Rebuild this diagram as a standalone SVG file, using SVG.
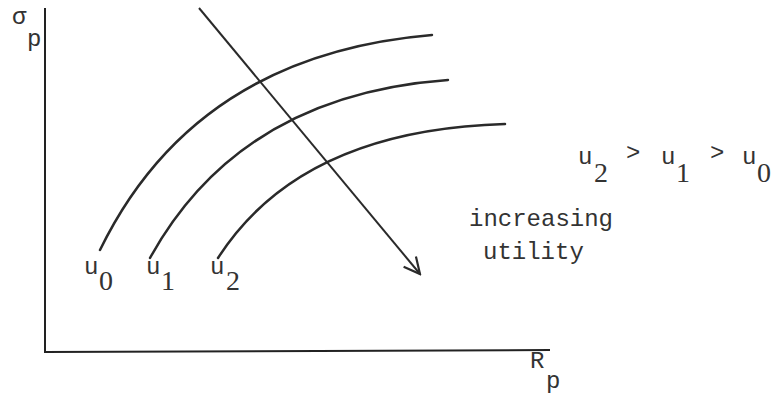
<svg xmlns="http://www.w3.org/2000/svg" width="780" height="400" viewBox="0 0 780 400">
<style>
.ax{stroke:#222;stroke-width:2;fill:none}
.cv{stroke:#2a2a2a;stroke-width:2.5;fill:none;stroke-linecap:round}
.t{font-family:"Liberation Mono",monospace;fill:#333;font-size:24px}
.s{font-family:"Liberation Serif",serif;fill:#333;font-size:28px}
</style>
<defs>
<marker id="ah" viewBox="0 0 20 20" refX="18" refY="10" markerWidth="20" markerHeight="20" markerUnits="userSpaceOnUse" orient="auto">
<path d="M2,2 L18,10 L2,18" fill="none" stroke="#2a2a2a" stroke-width="2.2"/>
</marker>
</defs>
<g id="axes">
<path class="ax" d="M45,8 L45,352 L550,350"/>
<text class="t" x="12" y="24" font-size="20">σ</text>
<text class="t" x="27" y="46">p</text>
<text class="t" x="530" y="368">R</text>
<text class="t" x="546" y="388">p</text>
</g>
<g id="curve-u0">
<path class="cv" d="M100,250 Q195,55 432,35"/>
<text class="t" x="84" y="274">u</text>
<text class="s" x="99" y="290">0</text>
</g>
<g id="curve-u1">
<path class="cv" d="M150,258 Q240,95 448,80"/>
<text class="t" x="146" y="274">u</text>
<text class="s" x="161" y="290">1</text>
</g>
<g id="curve-u2">
<path class="cv" d="M218,258 Q300,130 505,124"/>
<text class="t" x="210" y="274">u</text>
<text class="s" x="226" y="290">2</text>
</g>
<g id="connectors">
<line x1="199" y1="8" x2="420" y2="274" stroke="#2a2a2a" stroke-width="2" marker-end="url(#ah)"/>
</g>
<g id="labels">
<text class="t" x="469" y="226">increasing</text>
<text class="t" x="483" y="259">utility</text>
<text class="t" x="578" y="164">u</text>
<text class="s" x="594" y="182">2</text>
<text class="t" x="626" y="160" font-size="18">&gt;</text>
<text class="t" x="661" y="164">u</text>
<text class="s" x="676" y="182">1</text>
<text class="t" x="710" y="160" font-size="18">&gt;</text>
<text class="t" x="742" y="164">u</text>
<text class="s" x="757" y="182">0</text>
</g>
</svg>
